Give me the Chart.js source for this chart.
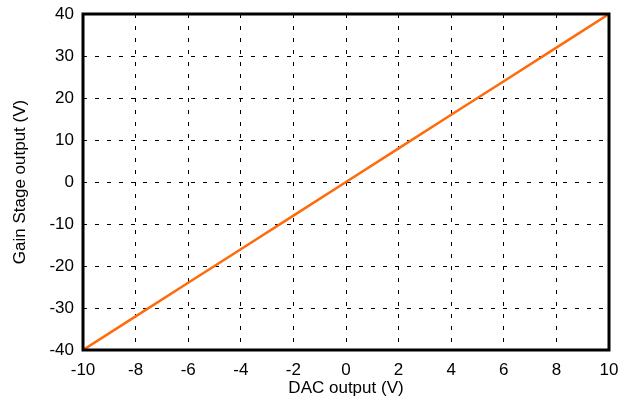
<!DOCTYPE html>
<html>
<head>
<meta charset="utf-8">
<script src="https://cdn.jsdelivr.net/npm/chart.js@4"></script>
<style>
  html, body { margin: 0; padding: 0; background: #fff; }
  #wrap { width: 631px; height: 400px; position: relative; }
</style>
</head>
<body>
<div id="wrap"><canvas id="gainChart"></canvas></div>
<script>
const dacOutput = [-10, -8, -6, -4, -2, 0, 2, 4, 6, 8, 10]
const gainOutput = [-40, -32, -24, -16, -8, 0, 8, 16, 24, 32, 40]
const xTicks = [-10, -8, -6, -4, -2, 0, 2, 4, 6, 8, 10]
const yTicks = [-40, -30, -20, -10, 0, 10, 20, 30, 40]

const tickFont = { family: "Liberation Sans, Arial, sans-serif", size: 17 }

// black frame round the plot area
const frame = {
    id: "frame",
    afterDatasetsDraw(chart) {
        const { ctx, chartArea: a } = chart
        ctx.save()
        ctx.strokeStyle = "#000"
        ctx.lineWidth = 3
        ctx.strokeRect(a.left, a.top, a.right - a.left, a.bottom - a.top)
        ctx.restore()
    }
}

const ctx = document.getElementById("gainChart").getContext("2d")
new Chart(ctx, {
    type: "scatter",
    data: {
        datasets: [{
            data: dacOutput.map((x, i) => ({ x: x, y: gainOutput[i] })),
            showLine: true,
            borderColor: "#ff6a0a",
            borderWidth: 2.5,
            pointRadius: 0,
            tension: 0,
        }]
    },
    options: {
        responsive: true,
        maintainAspectRatio: false,
        animation: false,
        layout: { padding: { top: 14, right: 22, left: 0, bottom: 0 } },
        plugins: { legend: { display: false }, tooltip: { enabled: false } },
        scales: {
            x: {
                type: "linear",
                min: -10,
                max: 10,
                afterBuildTicks: s => { s.ticks = xTicks.map(v => ({ value: v })) },
                afterFit: s => { s.height = 50 },
                ticks: { color: "#000", font: tickFont, padding: 10, maxRotation: 0 },
                grid: { color: "#000", lineWidth: 1, drawTicks: false },
                border: { display: false, dash: [4, 8] },
                title: { display: true, text: "DAC output (V)", color: "#000", font: tickFont, padding: { top: 0, bottom: 1 } },
            },
            y: {
                min: -40,
                max: 40,
                afterBuildTicks: s => { s.ticks = yTicks.map(v => ({ value: v })) },
                afterFit: s => { s.width = 83; s.paddingTop = 0; s.paddingBottom = 0 },
                ticks: { color: "#000", font: tickFont, padding: 9 },
                grid: { color: "#000", lineWidth: 1, drawTicks: false },
                border: { display: false, dash: [4, 8] },
                title: { display: true, text: "Gain Stage output (V)", color: "#000", font: tickFont, padding: { top: 10, bottom: 0 } },
            }
        }
    },
    plugins: [frame]
})
</script>
</body>
</html>
